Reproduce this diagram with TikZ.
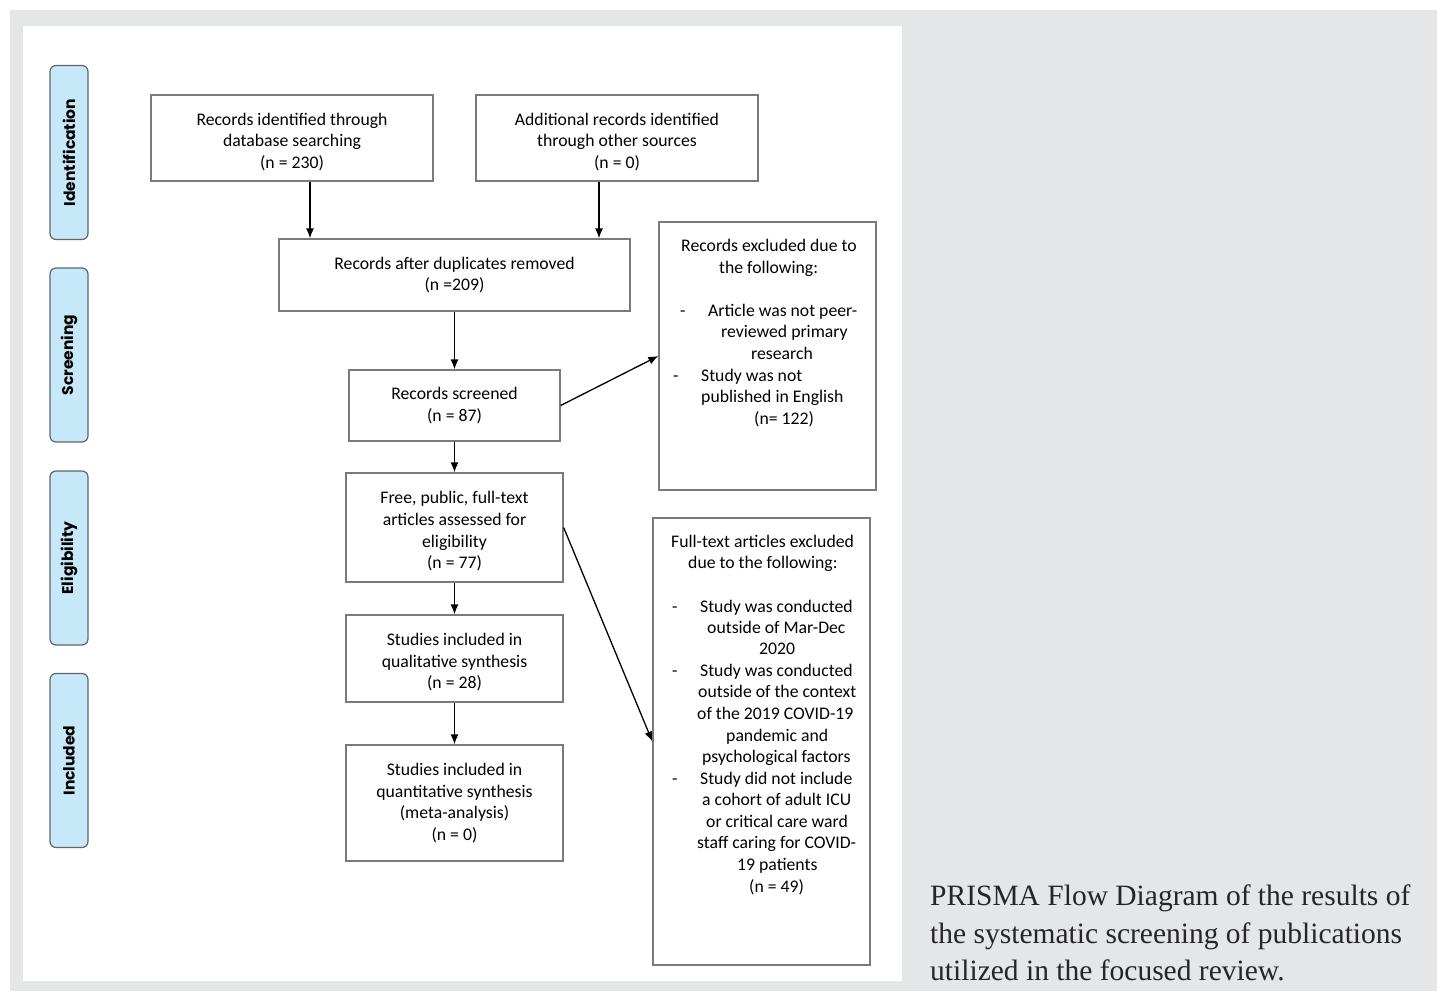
\documentclass[tikz,border=0pt]{standalone}
\usepackage{fontspec}
\setmainfont{Carlito}
\newfontfamily\capfont{Liberation Serif}
\newfontfamily\labfont{Poppins}
\usetikzlibrary{arrows.meta}
\definecolor{bggray}{HTML}{E5E6E8}
\definecolor{labblue}{HTML}{C6E8F9}
\definecolor{labedge}{HTML}{5F666B}
\definecolor{boxedge}{HTML}{7A7A7A}
\tikzset{
  box/.style={draw=boxedge, line width=1.3pt, fill=white, align=center, inner sep=0pt,
    font=\fontsize{17.7}{21.6}\selectfont},
  phase/.style={draw=labedge, line width=1.2pt, fill=labblue, rounded corners=6pt,
    minimum width=38pt, minimum height=174pt, inner sep=0pt},
  phasetext/.style={rotate=90, font=\labfont\bfseries\fontsize{15.5}{18}\selectfont, inner sep=0pt},
  tl/.style={anchor=west, inner sep=0pt, text height=11.4pt, text depth=0pt,
    font=\fontsize{17.7}{21.6}\selectfont},
  arr/.style={line width=1.3pt, -{Latex[length=10pt,width=8pt]}}
}
\newcommand{\dsh}[1]{\makebox[#1pt][l]{-}}
\newcommand{\up}{\rule{0pt}{20pt}}
\begin{document}
\begin{tikzpicture}[x=1pt,y=-1pt]
\path[use as bounding box] (0,0) rectangle (1437,991);
\fill[white] (0,0) rectangle (1437,991);
\fill[bggray] (10,10) rectangle (1437,991);
\fill[white] (23,26) rectangle (902,981);

% phase labels
\node[phase] (p1) at (69,152.5) {};
\node[phasetext] (p1t) at (p1) {Identification};
\node[phase] (p2) at (69,355) {};
\node[phasetext] (p2t) at (p2) {Screening};
\node[phase] (p3) at (69,558) {};
\node[phasetext] (p3t) at (p3) {Eligibility};
\node[phase] (p4) at (69,760.5) {};
\node[phasetext] (p4t) at (p4) {Included};

% main boxes
\node[box, minimum width=282, minimum height=86] (A) at (292,138)
  {\up Records identified through\\database searching\\(n = 230)};
\node[box, minimum width=282, minimum height=86] (B) at (617,138)
  {\up Additional records identified\\through other sources\\(n = 0)};
\node[box, minimum width=351, minimum height=72] (C) at (454.5,275)
  {Records after duplicates removed\\(n =209)};
\node[box, minimum width=211, minimum height=71] (D) at (454.5,405.5)
  {Records screened\\(n = 87)};
\node[box, minimum width=217, minimum height=109] (F) at (454.5,527.5)
  {\up Free, public, full-text\\articles assessed for\\eligibility\\(n = 77)};
\node[box, minimum width=217, minimum height=87] (G) at (454.5,658.5)
  {\up Studies included in\\qualitative synthesis\\(n = 28)};
\node[box, minimum width=217, minimum height=116] (H) at (454.5,803)
  {Studies included in\\quantitative synthesis\\(meta-analysis)\\(n = 0)};
\node[box, minimum width=217, minimum height=268] (E) at (767.5,356) {};
\node[box, minimum width=217, minimum height=447] (I) at (761.5,741.5) {};

% text of E
\node[tl] (e1) at (681,246) {Records excluded due to};
\node[tl] (e2) at (719,268) {the following:};
\node[tl] (e3) at (680,311) {\dsh{28}Article was not peer-};
\node[tl] (e4) at (721,332) {reviewed primary};
\node[tl] (e5) at (751,354) {research};
\node[tl] (e6) at (673,376) {\dsh{28}Study was not};
\node[tl] (e7) at (701,397) {published in English};
\node[tl] (e8) at (754,419) {(n= 122)};

% text of I
\node[tl] (i1) at (671,542) {Full-text articles excluded};
\node[tl] (i2) at (688,563) {due to the following:};
\node[tl] (i3) at (672,607) {\dsh{28}Study was conducted};
\node[tl] (i4) at (707,628) {outside of Mar-Dec};
\node[tl] (i5) at (759,649) {2020};
\node[tl] (i6) at (672,671) {\dsh{28}Study was conducted};
\node[tl] (i7) at (698,692) {outside of the context};
\node[tl] (i8) at (697,714) {of the 2019 COVID-19};
\node[tl] (i9) at (726,736) {pandemic and};
\node[tl] (i10) at (702,757) {psychological factors};
\node[tl] (i11) at (672,779) {\dsh{28}Study did not include};
\node[tl] (i12) at (702,800) {a cohort of adult ICU};
\node[tl] (i13) at (706,822) {or critical care ward};
\node[tl] (i14) at (697,843) {staff caring for COVID-};
\node[tl] (i15) at (737,865) {19 patients};
\node[tl] (i16) at (749,887) {(n = 49)};

% arrows
\coordinate (xa) at (310,0);
\coordinate (xb) at (599,0);
\draw[arr] (A.south -| xa) -- (C.north -| xa);
\draw[arr] (B.south -| xb) -- (C.north -| xb);
\draw[arr] (C.south) -- (D.north);
\draw[arr] (D.south) -- (F.north);
\draw[arr] (F.south) -- (G.north);
\draw[arr] (G.south) -- (H.north);
\draw[arr] (D.east) -- (E.west);
\draw[arr] (F.east) -- (I.west);

% caption
\node[anchor=north west, inner sep=0pt, align=left, text=black!85,
  font=\capfont\fontsize{29.5}{37.4}\selectfont] (cap) at (930,885)
  {PRISMA Flow Diagram of the results of\\the systematic screening of publications\\utilized in the focused review.};
\end{tikzpicture}
\end{document}
